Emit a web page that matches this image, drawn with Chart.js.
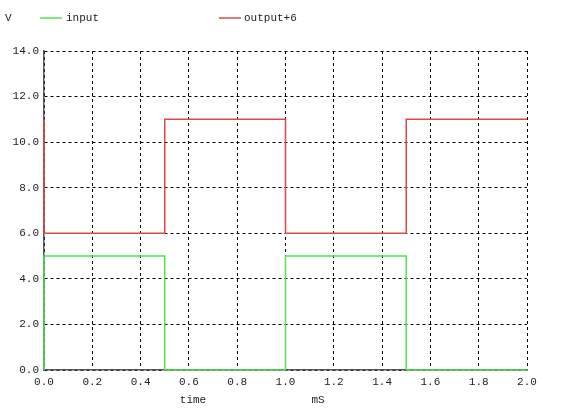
<!DOCTYPE html>
<html>
<head>
<meta charset="utf-8">
<script src="https://cdn.jsdelivr.net/npm/chart.js@4"></script>
<style>
  html, body { margin: 0; padding: 0; background: #fff; }
  #wrap { width: 576px; height: 417px; position: relative; }
</style>
</head>
<body>
<div id="wrap"><canvas id="c" width="576" height="417"></canvas></div>
<script>
// Data (time in mS, voltage in V)
const inputTime   = [0, 0, 0.5, 0.5, 1.0, 1.0, 1.5, 1.5, 2.0];
const inputVolts  = [0, 5, 5,   0,   0,   5,   5,   0,   0];
const outputTime  = [0, 0, 0.5, 0.5, 1.0, 1.0, 1.5, 1.5, 2.0];
const outputVolts = [11, 6, 6,  11,  11,  6,   6,   11,  11];
const seriesNames = ["input", "output+6"];
const xTitleParts = ["time", "mS"];
const yUnit = "V";

const FONT = "'Liberation Mono', 'DejaVu Sans Mono', monospace";
const GREEN = "#55e055";
const RED = "#e04848";

function toPoints(ts, vs) { return ts.map((t, i) => ({ x: t, y: vs[i] })); }

const overlay = {
  id: 'overlay',
  afterDraw(chart) {
    const ctx = chart.ctx;
    ctx.save();
    ctx.setLineDash([]);
    ctx.font = "11px " + FONT;
    ctx.fillStyle = "#222";
    ctx.textBaseline = "middle";
    ctx.textAlign = "left";
    ctx.fillText(yUnit, 5, 18);
    // legend
    ctx.lineWidth = 1.5;
    ctx.strokeStyle = GREEN;
    ctx.beginPath(); ctx.moveTo(40, 18); ctx.lineTo(62, 18); ctx.stroke();
    ctx.fillText(seriesNames[0], 66, 18);
    ctx.strokeStyle = RED;
    ctx.beginPath(); ctx.moveTo(219, 18); ctx.lineTo(241, 18); ctx.stroke();
    ctx.fillText(seriesNames[1], 244, 18);
    // x axis title
    ctx.textAlign = "center";
    ctx.fillText(xTitleParts[0], 193, 400);
    ctx.fillText(xTitleParts[1], 318, 400);
    ctx.restore();
  }
};

new Chart(document.getElementById('c'), {
  type: 'line',
  data: {
    datasets: [
      {
        label: seriesNames[0],
        data: toPoints(inputTime, inputVolts),
        borderColor: GREEN,
        borderWidth: 1.5,
        pointRadius: 0,
        fill: false,
        tension: 0,
        clip: 4
      },
      {
        label: seriesNames[1],
        data: toPoints(outputTime, outputVolts),
        borderColor: RED,
        borderWidth: 1.5,
        pointRadius: 0,
        fill: false,
        tension: 0,
        clip: 4
      }
    ]
  },
  options: {
    responsive: false,
    animation: false,
    devicePixelRatio: 1,
    layout: { padding: { left: 0, top: 51, right: 49, bottom: 0 } },
    plugins: { legend: { display: false }, tooltip: { enabled: false } },
    scales: {
      x: {
        type: 'linear',
        min: 0, max: 2,
        afterFit(s) { s.height = 47; },
        ticks: {
          stepSize: 0.2,
          padding: 5,
          color: '#222',
          font: { family: FONT, size: 11 },
          callback: v => Number(v).toFixed(1),
          maxRotation: 0,
          autoSkip: false
        },
        grid: { color: '#000', lineWidth: 1, drawTicks: false },
        border: { display: true, color: '#555', width: 1.5, dash: [3, 3] }
      },
      y: {
        min: 0, max: 14,
        afterFit(s) { s.width = 44; },
        ticks: {
          stepSize: 2,
          padding: 5,
          color: '#222',
          font: { family: FONT, size: 11 },
          callback: v => Number(v).toFixed(1)
        },
        grid: { color: '#000', lineWidth: 1, drawTicks: false },
        border: { display: true, color: '#555', width: 1.5, dash: [3, 3] }
      }
    }
  },
  plugins: [overlay]
});
</script>
</body>
</html>
